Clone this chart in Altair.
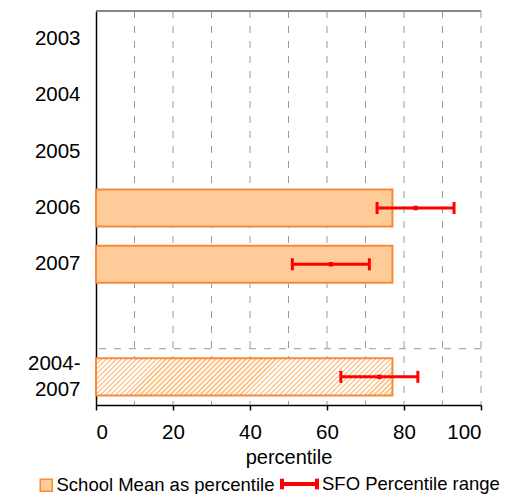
import altair as alt
import pandas as pd

# ---- data ----
categories = ["2003", "2004", "2005", "2006", "2007", " ", "2004-2007"]
bar_years = ["2006", "2007"]
bar_means = [77, 77]
combined_label = ["2004-2007"]
combined_mean = [77]
range_years = ["2006", "2007", "2004-2007"]
range_low = [73, 51, 63.6]
range_high = [93, 71, 83.6]
range_mid = [83, 61, 73.6]
x_ticks = list(range(0, 101, 10))
x_label_ticks = list(range(0, 101, 20))

MEAN_LABEL = "School Mean as percentile"
RANGE_LABEL = "SFO Percentile range"

W, H = 385, 394
FILL = "#FFCC99"
EDGE = "#F78A3A"

bars_df = pd.DataFrame({"cat": bar_years, "val": bar_means, "lab": MEAN_LABEL})
comb_df = pd.DataFrame({"cat": combined_label, "val": combined_mean})
rng_df = pd.DataFrame({"cat": range_years, "lo": range_low, "hi": range_high,
                       "mid": range_mid, "lab": RANGE_LABEL})
sep_df = pd.DataFrame({"cat": [" "]})
grid_df = pd.DataFrame({"g": x_ticks[1:]})

yscale = alt.Scale(domain=categories, paddingInner=0.34, paddingOuter=0.17)
y_axis = alt.Axis(title=None, ticks=False, grid=False, domainColor="black",
                  domainWidth=1.5, labelFontSize=20.5, labelColor="black",
                  labelPadding=16, labelLineHeight=26,
                  labelOffset={"condition": {"test": "datum.value == '2004-2007'", "value": -13},
                               "value": 0},
                  labelExpr="datum.value == '2004-2007' ? ['2004-', '2007\u00a0'] : datum.label")
y_enc = alt.Y("cat:N", scale=yscale, axis=y_axis, sort=categories)

x_axis = alt.Axis(values=x_label_ticks, title="percentile", titleFontSize=20,
                  titleFontWeight="normal", titleColor="black", titlePadding=5,
                  labelFontSize=20.5, labelColor="black", labelPadding=12,
                  tickSize=5, tickColor="black", tickWidth=1.5,
                  domainColor="black", domainWidth=1.5, grid=False)
xscale = alt.Scale(domain=[0, 100], nice=False, zero=True)

# hatch pattern approximated by a striped linear gradient
bw = H / len(categories) * 0.66
bar_w = combined_mean[0] / 100 * W
r = bw / bar_w
s = (1 + r) / (1 + r * r)
period = 5.0
n = int(round((bar_w + bw) / period))
stops = []
frac = 0.5
for i in range(n):
    a = i / n
    b = (i + frac) / n
    c = (i + 1) / n
    stops += [alt.GradientStop(color="#FFC994", offset=a),
              alt.GradientStop(color="#FFC994", offset=b),
              alt.GradientStop(color="#FFFFFF", offset=b),
              alt.GradientStop(color="#FFFFFF", offset=c)]
hatch = alt.LinearGradient(gradient="linear", stops=stops, x1=0, y1=0, x2=s, y2=s * r)

grid = alt.Chart(grid_df).mark_rule(color="#999999", strokeDash=[7, 8], strokeWidth=1).encode(
    x=alt.X("g:Q", scale=xscale)
)

bars = alt.Chart(bars_df).mark_bar(stroke=EDGE, strokeWidth=2).encode(
    y=y_enc,
    x=alt.X("val:Q", scale=xscale, axis=x_axis),
    fill=alt.Fill("lab:N", scale=alt.Scale(domain=[MEAN_LABEL], range=[FILL]),
                  legend=alt.Legend(title=None, orient="none", legendX=-59, legendY=465,
                                    symbolType="square", symbolSize=144,
                                    symbolStrokeColor=EDGE, symbolStrokeWidth=1.5,
                                    labelFontSize=18.5, labelColor="black", labelOffset=1,
                                    labelLimit=0)),
)

comb = alt.Chart(comb_df).mark_bar(stroke=EDGE, strokeWidth=2, fill=hatch).encode(
    y=alt.Y("cat:N", scale=yscale, sort=categories),
    x=alt.X("val:Q", scale=xscale),
)

sep = alt.Chart(sep_df).mark_rule(color="#999999", strokeDash=[7, 8], strokeWidth=1,
                                  yOffset=H / len(categories) / 2).encode(
    y=alt.Y("cat:N", scale=yscale, sort=categories),
)

top = alt.Chart(sep_df).mark_rule(color="#888888", strokeWidth=2).encode(
    x=alt.datum(0), x2=alt.datum(100), y=alt.value(0)
)

rng_line = alt.Chart(rng_df).mark_rule(strokeWidth=3).encode(
    y=alt.Y("cat:N", scale=yscale, sort=categories),
    x=alt.X("lo:Q", scale=xscale),
    x2="hi:Q",
    stroke=alt.Stroke("lab:N", scale=alt.Scale(domain=[RANGE_LABEL], range=["#FF0000"]),
                      legend=alt.Legend(title=None, orient="none", legendX=184, legendY=453.5,
                                        symbolType="M-1,-0.3L-1,0.3M-1,0L1,0M1,-0.3L1,0.3",
                                        symbolSize=1225, symbolStrokeWidth=4,
                                        labelFontSize=18.5, labelColor="black", labelOffset=3,
                                        labelLimit=0)),
)
caps_lo = alt.Chart(rng_df).mark_tick(color="#FF0000", thickness=3, size=12, opacity=1).encode(
    y=alt.Y("cat:N", scale=yscale, sort=categories), x=alt.X("lo:Q", scale=xscale))
caps_hi = alt.Chart(rng_df).mark_tick(color="#FF0000", thickness=3, size=12, opacity=1).encode(
    y=alt.Y("cat:N", scale=yscale, sort=categories), x=alt.X("hi:Q", scale=xscale))
mids = alt.Chart(rng_df).mark_square(color="#FF0000", size=20, opacity=1).encode(
    y=alt.Y("cat:N", scale=yscale, sort=categories), x=alt.X("mid:Q", scale=xscale))

chart = alt.layer(grid, bars, comb, sep, top, rng_line, caps_lo, caps_hi, mids).properties(
    width=W, height=H, padding={"left": 19, "top": 2, "right": 5, "bottom": 0}
).configure(font="Liberation Sans").configure_view(stroke=None)

chart.save("out.html", embed_options={"renderer": "svg", "actions": False})
